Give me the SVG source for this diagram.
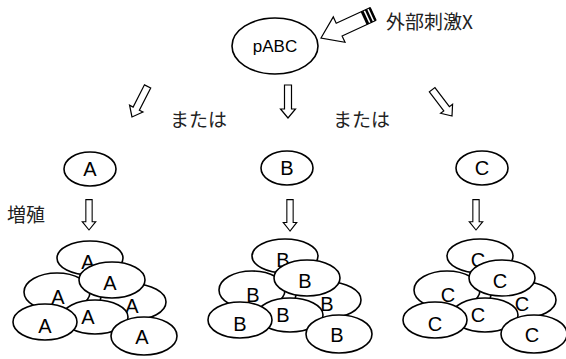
<svg xmlns="http://www.w3.org/2000/svg" width="566" height="359" viewBox="0 0 566 359">
  <defs>
    <style>
      .cell { fill: #fff; stroke: #000; stroke-width: 1.6; }
      .lbl { font-family: "Liberation Sans", Arial, sans-serif; font-size: 20px; text-anchor: middle; fill: #000; }
      .jp { font-family: "Noto Sans CJK JP", "Noto Sans CJK SC", sans-serif; font-size: 19px; fill: #222; }
      .arr { fill: #fff; stroke: #000; stroke-width: 1.2; stroke-linejoin: miter; }
    </style>
    <!-- hollow down arrow, tip at origin -->
    <path id="downArrow" class="arr" d="M0,0 L-7.5,-9 L-3.5,-9 L-3.5,-33 L3.5,-33 L3.5,-9 L7.5,-9 Z"/>
  </defs>

  <!-- top node -->
  <g id="pABC">
    <ellipse class="cell" cx="275" cy="46" rx="43" ry="28"/>
    <text class="lbl" x="275" y="52" style="font-size:17px">pABC</text>
  </g>

  <!-- external stimulus -->
  <g id="stimulus">
    <g transform="translate(321,38) rotate(-24.8)">
      <path class="arr" d="M0,0 L20,-14 L20,-7 L57,-7 L57,7 L20,7 L20,14 Z"/>
      <rect x="47" y="-7" width="3" height="14" fill="#000"/>
      <rect x="51.5" y="-7" width="2.5" height="14" fill="#000"/>
      <rect x="55.5" y="-7" width="2.5" height="14" fill="#000"/>
    </g>
    <text class="jp" x="386" y="29">外部刺激X</text>
  </g>

  <!-- branching arrows and labels -->
  <g id="connectors">
    <use href="#downArrow" transform="translate(132,117) rotate(27) scale(1,1.04)"/>
    <use href="#downArrow" transform="translate(288,118)"/>
    <use href="#downArrow" transform="translate(452,116) rotate(-37) scale(1,1)"/>
    <use href="#downArrow" transform="translate(89,230) scale(0.9,0.92)"/>
    <use href="#downArrow" transform="translate(290,231) scale(0.9,0.95)"/>
    <use href="#downArrow" transform="translate(476,230) scale(0.9,0.92)"/>
  </g>
  <text class="jp" x="170" y="127">または</text>
  <text class="jp" x="333" y="127">または</text>
  <text class="jp" x="7" y="222">増殖</text>

  <!-- single cells -->
  <g id="cellA">
    <ellipse class="cell" cx="90" cy="169" rx="26" ry="17"/>
    <text class="lbl" x="90" y="176">A</text>
  </g>
  <g id="cellB">
    <ellipse class="cell" cx="287" cy="168" rx="26" ry="17"/>
    <text class="lbl" x="287" y="175">B</text>
  </g>
  <g id="cellC">
    <ellipse class="cell" cx="482" cy="168" rx="26" ry="17"/>
    <text class="lbl" x="482" y="175">C</text>
  </g>

  <!-- colony A -->
  <g id="colonyA">
    <g><ellipse class="cell" cx="90" cy="258" rx="33" ry="17"/><text class="lbl" x="88" y="269">A</text></g>
    <g><ellipse class="cell" cx="133" cy="302" rx="33" ry="18"/><text class="lbl" x="132" y="313">A</text></g>
    <g><ellipse class="cell" cx="57" cy="292" rx="33" ry="19"/><text class="lbl" x="58" y="304">A</text></g>
    <g><ellipse class="cell" cx="95" cy="317" rx="33" ry="17"/><text class="lbl" x="88" y="324">A</text></g>
    <g><ellipse class="cell" cx="112" cy="280" rx="33" ry="18"/><text class="lbl" x="110" y="290">A</text></g>
    <g><ellipse class="cell" cx="45" cy="322" rx="32" ry="18"/><text class="lbl" x="45" y="333">A</text></g>
    <g><ellipse class="cell" cx="144" cy="336" rx="33" ry="19"/><text class="lbl" x="142" y="344">A</text></g>
  </g>

  <!-- colony B -->
  <g id="colonyB" transform="translate(195,-2)">
    <g><ellipse class="cell" cx="90" cy="258" rx="33" ry="17"/><text class="lbl" x="88" y="269">B</text></g>
    <g><ellipse class="cell" cx="133" cy="302" rx="33" ry="18"/><text class="lbl" x="132" y="313">B</text></g>
    <g><ellipse class="cell" cx="57" cy="292" rx="33" ry="19"/><text class="lbl" x="58" y="304">B</text></g>
    <g><ellipse class="cell" cx="95" cy="317" rx="33" ry="17"/><text class="lbl" x="88" y="324">B</text></g>
    <g><ellipse class="cell" cx="112" cy="280" rx="33" ry="18"/><text class="lbl" x="110" y="290">B</text></g>
    <g><ellipse class="cell" cx="45" cy="322" rx="32" ry="18"/><text class="lbl" x="45" y="333">B</text></g>
    <g><ellipse class="cell" cx="144" cy="336" rx="33" ry="19"/><text class="lbl" x="142" y="344">B</text></g>
  </g>

  <!-- colony C -->
  <g id="colonyC" transform="translate(390,-2)">
    <g><ellipse class="cell" cx="90" cy="258" rx="33" ry="17"/><text class="lbl" x="88" y="269">C</text></g>
    <g><ellipse class="cell" cx="133" cy="302" rx="33" ry="18"/><text class="lbl" x="132" y="313">C</text></g>
    <g><ellipse class="cell" cx="57" cy="292" rx="33" ry="19"/><text class="lbl" x="58" y="304">C</text></g>
    <g><ellipse class="cell" cx="95" cy="317" rx="33" ry="17"/><text class="lbl" x="88" y="324">C</text></g>
    <g><ellipse class="cell" cx="112" cy="280" rx="33" ry="18"/><text class="lbl" x="110" y="290">C</text></g>
    <g><ellipse class="cell" cx="45" cy="322" rx="32" ry="18"/><text class="lbl" x="45" y="333">C</text></g>
    <g><ellipse class="cell" cx="144" cy="336" rx="33" ry="19"/><text class="lbl" x="142" y="344">C</text></g>
  </g>
</svg>
